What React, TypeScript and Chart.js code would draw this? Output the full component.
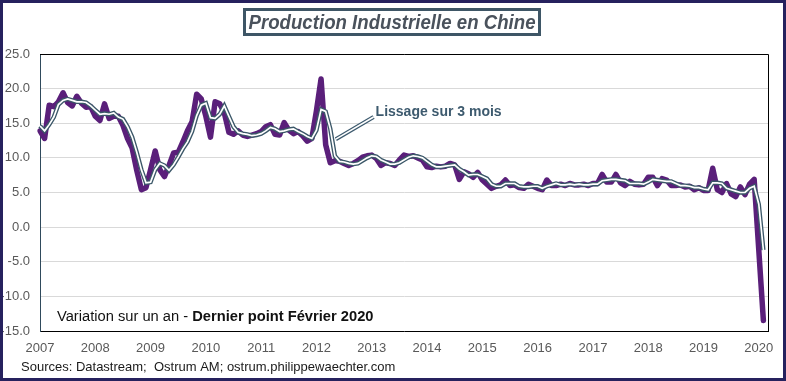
import React, { useEffect, useRef } from "react";
import { Chart, registerables } from "chart.js";

Chart.register(...registerables);

// Years shown on the x axis (monthly data Jan 2007 .. Feb 2020, axis runs to Mar 2020)
const years: string[] = ["2007", "2008", "2009", "2010", "2011", "2012", "2013", "2014", "2015", "2016", "2017", "2018", "2019", "2020"];
const monthCodes: string[] = ["01", "02", "03", "04", "05", "06", "07", "08", "09", "10", "11", "12"];
const lastMonthOnAxis = "2020-03";

// Industrial production, year-on-year change (%)
const ipYoY: number[] = [
  13.9, 12.8, 17.6, 17.4, 18.1, 19.4, 18.0, 17.5, 18.9, 17.9, 17.3, 17.4,
  16.0, 15.4, 17.8, 15.7, 16.0, 16.0, 14.7, 12.8, 11.4, 8.2, 5.4, 5.7,
  8.3, 11.0, 8.3, 7.3, 8.9, 10.7, 10.8, 12.3, 13.9, 15.2, 19.2, 18.5,
  16.0, 13.0, 18.1, 17.8, 16.5, 13.7, 13.4, 13.9, 13.3, 13.1, 13.3, 13.5,
  13.8, 14.5, 14.8, 13.4, 13.3, 15.1, 14.0, 13.5, 13.8, 13.2, 12.4, 12.8,
  16.8, 21.4, 11.9, 9.3, 9.6, 9.5, 9.2, 8.9, 9.2, 9.6, 10.1, 10.3,
  10.4, 9.9, 8.9, 9.3, 9.2, 8.9, 9.7, 10.4, 10.2, 10.3, 10.0, 9.7,
  8.7, 8.6, 8.8, 8.7, 8.8, 9.2, 9.0, 6.9, 8.0, 7.7, 7.2, 7.9,
  6.8, 6.2, 5.6, 5.9, 6.1, 6.8, 6.0, 6.1, 5.7, 5.6, 6.2, 5.9,
  5.6, 5.4, 6.8, 6.0, 6.0, 6.2, 6.0, 6.3, 6.1, 6.1, 6.2, 6.0,
  6.3, 6.3, 7.6, 6.5, 6.5, 7.6, 6.4, 6.0, 6.6, 6.2, 6.1, 6.2,
  7.2, 7.2, 6.0, 7.0, 6.8, 6.0, 6.0, 6.1, 5.8, 5.9, 5.4, 5.7,
  5.3, 5.3, 8.5, 5.4, 5.0, 6.3, 4.8, 4.4, 5.8, 4.7, 6.2, 6.9,
  -3.3, -13.5,
];

// "Lissage sur 3 mois" (3-month smoothing)
const smoothed3m: number[] = [
  14.6, 13.9, 14.8, 15.9, 17.7, 18.3, 18.5, 18.3, 18.1, 18.1, 18.0, 17.5,
  16.9, 16.3, 16.4, 16.3, 16.5, 15.9, 15.6, 14.5, 13.0, 10.8, 8.3, 6.4,
  6.5, 8.3, 9.2, 8.9, 8.2, 9.0, 10.1, 11.3, 12.3, 13.8, 16.1, 17.6,
  17.9, 15.8, 15.7, 16.3, 17.5, 16.0, 14.5, 13.7, 13.5, 13.4, 13.2, 13.3,
  13.5, 13.9, 14.4, 14.2, 13.8, 13.9, 14.1, 14.2, 13.8, 13.5, 13.1, 12.8,
  14.0, 17.0, 16.7, 14.2, 10.3, 9.5, 9.4, 9.2, 9.1, 9.2, 9.6, 10.0,
  10.3, 10.2, 9.7, 9.4, 9.1, 9.1, 9.3, 9.7, 10.1, 10.3, 10.2, 10.0,
  9.5, 9.0, 8.7, 8.7, 8.8, 8.9, 9.0, 8.4, 8.0, 7.5, 7.6, 7.6,
  7.3, 7.0, 6.2, 5.9, 5.9, 6.3, 6.3, 6.3, 5.9, 5.8, 5.8, 5.9,
  5.9, 5.6, 5.9, 6.1, 6.3, 6.1, 6.1, 6.2, 6.1, 6.2, 6.1, 6.1,
  6.2, 6.2, 6.7, 6.8, 6.9, 6.9, 6.8, 6.7, 6.3, 6.3, 6.3, 6.2,
  6.5, 6.9, 6.8, 6.7, 6.6, 6.6, 6.3, 6.0, 6.0, 5.9, 5.7, 5.7,
  5.5, 5.4, 6.4, 6.4, 6.3, 5.6, 5.4, 5.2, 5.0, 5.0, 5.6, 5.9,
  3.3, -3.3,
];

// y-axis range and step
const yMin = -15;
const yMax = 25;
const yStep = 5;

const chartTitle = "Production Industrielle en Chine";
const smoothLabel = "Lissage sur 3 mois";
const noteRegular = "Variation sur un an - ";
const noteBold = "Dernier point Février 2020";
const sourcesText = "Sources: Datastream;  Ostrum AM; ostrum.philippewaechter.com";

const months: string[] = [];
years.forEach((y) => monthCodes.forEach((m) => {
  const code = `${y}-${m}`;
  if (code <= lastMonthOnAxis) months.push(code);
}));

const FONT = '"Liberation Sans", Arial, sans-serif';

const decorPlugin = {
  id: "decor",
  beforeDraw(chart: any) {
    const { ctx, width, height } = chart;
    ctx.save();
    ctx.fillStyle = "#ffffff";
    ctx.fillRect(0, 0, width, height);
    ctx.restore();
  },
  afterDraw(chart: any) {
    const { ctx, chartArea: a, width, height, scales } = chart;
    ctx.save();

    // top and right border of plot area
    ctx.strokeStyle = "#000000";
    ctx.lineWidth = 1;
    ctx.beginPath();
    ctx.moveTo(a.left, a.top + 0.5);
    ctx.lineTo(a.right + 0.5, a.top + 0.5);
    ctx.lineTo(a.right + 0.5, a.bottom);
    ctx.stroke();

    // title box
    ctx.fillStyle = "#ffffff";
    ctx.fillRect(244, 9, 296, 26);
    ctx.strokeStyle = "#3e5666";
    ctx.lineWidth = 3;
    ctx.strokeRect(244.5, 9.5, 295, 25);
    ctx.fillStyle = "#4a525c";
    ctx.font = `italic bold 20px ${FONT}`;
    ctx.textAlign = "center";
    ctx.textBaseline = "middle";
    ctx.fillText(chartTitle, 392, 23, 287);

    // smoothing annotation with double leader line
    const xs = scales.x;
    const ys = scales.y;
    const x1 = xs.getPixelForValue(64.2);
    const y1 = ys.getPixelForValue(12.7);
    const x2 = xs.getPixelForValue(72.4);
    const y2 = ys.getPixelForValue(15.9);
    ctx.lineCap = "butt";
    ctx.strokeStyle = "#3d5a6e";
    ctx.lineWidth = 4;
    ctx.beginPath();
    ctx.moveTo(x1, y1);
    ctx.lineTo(x2, y2);
    ctx.stroke();
    ctx.strokeStyle = "#ffffff";
    ctx.lineWidth = 1.6;
    ctx.beginPath();
    ctx.moveTo(x1, y1);
    ctx.lineTo(x2, y2);
    ctx.stroke();
    ctx.fillStyle = "#3d5a6e";
    ctx.font = `bold 14px ${FONT}`;
    ctx.textAlign = "left";
    ctx.fillText(smoothLabel, x2 + 2, y2 - 5);

    // note inside plot
    ctx.fillStyle = "#111111";
    ctx.font = `14.7px ${FONT}`;
    ctx.textBaseline = "middle";
    ctx.fillText(noteRegular, 57, 317);
    const w = ctx.measureText(noteRegular).width;
    ctx.font = `bold 14.7px ${FONT}`;
    ctx.fillText(noteBold, 57 + w, 317);

    // sources
    ctx.font = `13px ${FONT}`;
    ctx.fillStyle = "#1a1a1a";
    ctx.fillText(sourcesText, 21, 367);

    // outer frame
    ctx.strokeStyle = "#26215e";
    ctx.lineWidth = 3;
    ctx.strokeRect(1.5, 1.5, width - 3, height - 3);
    ctx.restore();
  },
};

export default function App() {
  const canvasRef = useRef<HTMLCanvasElement | null>(null);

  useEffect(() => {
    if (!canvasRef.current) return;
    const chart = new Chart(canvasRef.current, {
      type: "line",
      data: {
        labels: months,
        datasets: [
          {
            label: "Variation sur un an",
            data: ipYoY,
            borderColor: "#5a1f7a",
            borderWidth: 5.5,
            pointRadius: 0,
            tension: 0,
            borderJoinStyle: "round",
            borderCapStyle: "round",
            order: 3,
          },
          {
            label: "Lissage sur 3 mois (contour)",
            data: smoothed3m,
            borderColor: "#3b5768",
            borderWidth: 4.4,
            pointRadius: 0,
            tension: 0,
            order: 2,
          },
          {
            label: "Lissage sur 3 mois",
            data: smoothed3m,
            borderColor: "#ffffff",
            borderWidth: 1.7,
            pointRadius: 0,
            tension: 0,
            order: 1,
          },
        ],
      },
      options: {
        animation: false,
        responsive: false,
        maintainAspectRatio: false,
        layout: { padding: { left: 0, right: 18, top: 54, bottom: 20 } },
        plugins: {
          legend: { display: false },
          tooltip: { enabled: false },
          title: { display: false },
        },
        scales: {
          x: {
            type: "category",
            offset: false,
            grid: { display: false, drawTicks: false },
            border: { display: true, color: "#000000", width: 1 },
            ticks: {
              autoSkip: false,
              maxRotation: 0,
              minRotation: 0,
              padding: 10,
              color: "#595959",
              font: { family: FONT, size: 13 },
              callback: (_v: any, i: number) => {
                const m = months[i];
                return m && m.endsWith("-01") ? m.slice(0, 4) : null;
              },
            },
            afterFit: (s: any) => {
              s.height = 30;
            },
          },
          y: {
            min: yMin,
            max: yMax,
            grid: { color: "#d9d9d9", drawTicks: false },
            border: { display: true, color: "#2f4a5c", width: 1 },
            ticks: {
              stepSize: yStep,
              padding: 10,
              color: "#595959",
              font: { family: FONT, size: 13 },
              callback: (v: any) => Number(v).toFixed(1),
            },
            afterFit: (s: any) => {
              s.width = 40;
            },
          },
        },
      },
      plugins: [decorPlugin],
    } as any);
    return () => chart.destroy();
  }, []);

  return (
    <div style={{ position: "fixed", left: 0, top: 0, width: 786, height: 381, background: "#fff" }}>
      <canvas ref={canvasRef} width={786} height={381} style={{ display: "block", width: 786, height: 381 }} />
    </div>
  );
}
